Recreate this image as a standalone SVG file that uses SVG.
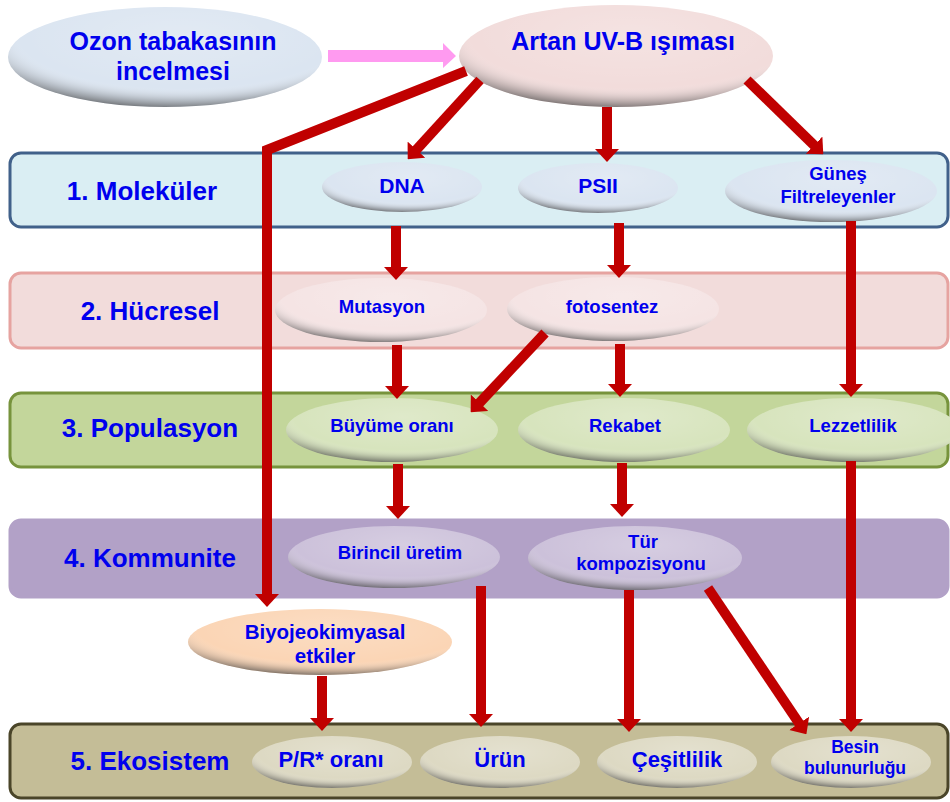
<svg xmlns="http://www.w3.org/2000/svg" width="950" height="802" viewBox="0 0 950 802">
<defs>
<style>
text{font-family:"Liberation Sans",Arial,sans-serif;font-weight:bold;fill:#0000ee;text-anchor:middle}
.lv{font-size:26px}
.band{stroke-width:3}
.conn path{fill:none;stroke:#c00000;stroke-width:10;stroke-linejoin:miter}
.shade{fill:url(#shade)}
</style>
<radialGradient id="shade" cx="55%" cy="30%" r="75%" fx="55%" fy="30%">
<stop offset="0" stop-color="#ffffff" stop-opacity="0.2"/>
<stop offset="0.68" stop-color="#ffffff" stop-opacity="0"/>
<stop offset="0.84" stop-color="#606060" stop-opacity="0.3"/>
<stop offset="1" stop-color="#303030" stop-opacity="0.85"/>
</radialGradient>
<marker id="ah" viewBox="0 0 13 24" refX="1" refY="12" markerWidth="13" markerHeight="24" markerUnits="userSpaceOnUse" orient="auto">
<path d="M0,0 L13,12 L0,24 z" fill="#c00000"/>
</marker>
</defs>
<rect width="950" height="802" fill="#ffffff"/>

<g id="band1"><rect class="band" x="10" y="153" width="938" height="74" rx="11" fill="#daeef3" stroke="#41618a"/><text class="lv" x="142" y="200">1. Moleküler</text></g>
<g id="band2"><rect class="band" x="10" y="273" width="938" height="75" rx="11" fill="#f2dcdb" stroke="#e6a3a0"/><text class="lv" x="150" y="320">2. Hücresel</text></g>
<g id="band3"><rect class="band" x="10" y="393" width="938" height="74" rx="11" fill="#c3d69b" stroke="#77933c"/><text class="lv" x="150" y="437">3. Populasyon</text></g>
<g id="band4"><rect class="band" x="10" y="520" width="938" height="77" rx="11" fill="#b2a1c7" stroke="#b2a1c7"/><text class="lv" x="150" y="567">4. Kommunite</text></g>
<g id="band5"><rect class="band" x="10" y="724" width="938" height="74" rx="11" fill="#c4bd97" stroke="#4a4529"/><text class="lv" x="150" y="770">5. Ekosistem</text></g>

<g id="ozon"><ellipse cx="165" cy="57" rx="157" ry="50" fill="#dbe5f1"/><ellipse class="shade" cx="165" cy="57" rx="157" ry="50"/><text x="173" y="50" font-size="25">Ozon tabakasının</text><text x="173" y="80" font-size="25">incelmesi</text></g>
<g id="uvb"><ellipse cx="616" cy="56" rx="157" ry="51" fill="#f2dcdb"/><ellipse class="shade" cx="616" cy="56" rx="157" ry="51"/><text x="623" y="50" font-size="25">Artan UV-B ışıması</text></g>

<g id="dna"><ellipse cx="402" cy="187" rx="80" ry="25" fill="#dbe5f1"/><ellipse class="shade" cx="402" cy="187" rx="80" ry="25"/><text x="402" y="193" font-size="21">DNA</text></g>
<g id="psii"><ellipse cx="598" cy="188" rx="80" ry="25" fill="#dbe5f1"/><ellipse class="shade" cx="598" cy="188" rx="80" ry="25"/><text x="598" y="193" font-size="21">PSII</text></g>
<g id="gunes"><ellipse cx="831" cy="191" rx="106" ry="31" fill="#dbe5f1"/><ellipse class="shade" cx="831" cy="191" rx="106" ry="31"/><text x="838" y="180" font-size="18.5">Güneş</text><text x="838" y="203" font-size="18.5">Filtreleyenler</text></g>

<g id="mutasyon"><ellipse cx="381" cy="310" rx="106" ry="32" fill="#f5e4e4"/><ellipse class="shade" cx="381" cy="310" rx="106" ry="32"/><text x="382" y="313" font-size="18.5">Mutasyon</text></g>
<g id="fotosentez"><ellipse cx="613" cy="309" rx="106" ry="32" fill="#f5e4e4"/><ellipse class="shade" cx="613" cy="309" rx="106" ry="32"/><text x="612" y="313" font-size="18.5">fotosentez</text></g>

<g id="buyume"><ellipse cx="392" cy="430" rx="106" ry="32" fill="#d7e4bd"/><ellipse class="shade" cx="392" cy="430" rx="106" ry="32"/><text x="392" y="432" font-size="18.5">Büyüme oranı</text></g>
<g id="rekabet"><ellipse cx="624" cy="430" rx="106" ry="32" fill="#d7e4bd"/><ellipse class="shade" cx="624" cy="430" rx="106" ry="32"/><text x="625" y="432" font-size="18.5">Rekabet</text></g>
<g id="lezzetlilik"><ellipse cx="853" cy="430" rx="106" ry="32" fill="#d7e4bd"/><ellipse class="shade" cx="853" cy="430" rx="106" ry="32"/><text x="853" y="432" font-size="18.5">Lezzetlilik</text></g>

<g id="birincil"><ellipse cx="394" cy="557" rx="106" ry="31" fill="#ccc1da"/><ellipse class="shade" cx="394" cy="557" rx="106" ry="31"/><text x="400" y="559" font-size="18.5">Birincil üretim</text></g>
<g id="tur"><ellipse cx="635" cy="558" rx="107" ry="32" fill="#ccc1da"/><ellipse class="shade" cx="635" cy="558" rx="107" ry="32"/><text x="643" y="548" font-size="18.5">Tür</text><text x="641" y="570" font-size="18.5">kompozisyonu</text></g>

<g id="biyo"><ellipse cx="320" cy="642" rx="132" ry="33" fill="#fbd5b5"/><ellipse class="shade" cx="320" cy="642" rx="132" ry="33"/><text x="325" y="639" font-size="20.5">Biyojeokimyasal</text><text x="325" y="663" font-size="20.5">etkiler</text></g>

<g id="pr"><ellipse cx="332" cy="762" rx="80" ry="26" fill="#ddd9c3"/><ellipse class="shade" cx="332" cy="762" rx="80" ry="26"/><text x="331" y="767" font-size="22">P/R* oranı</text></g>
<g id="urun"><ellipse cx="500" cy="762" rx="80" ry="26" fill="#ddd9c3"/><ellipse class="shade" cx="500" cy="762" rx="80" ry="26"/><text x="500" y="767" font-size="22">Ürün</text></g>
<g id="cesitlilik"><ellipse cx="677" cy="762" rx="80" ry="26" fill="#ddd9c3"/><ellipse class="shade" cx="677" cy="762" rx="80" ry="26"/><text x="677" y="767" font-size="22">Çeşitlilik</text></g>
<g id="besin"><ellipse cx="851" cy="762" rx="80" ry="26" fill="#ddd9c3"/><ellipse class="shade" cx="851" cy="762" rx="80" ry="26"/><text x="855" y="753" font-size="17.5">Besin</text><text x="855" y="774" font-size="17.5">bulunurluğu</text></g>

<g id="connectors" class="conn">
<polygon points="328,50 443,50 443,43 456,56 443,68 443,62 328,62" fill="#ff9af0"/>
<path d="M466,71 L267,150 L267,595" marker-end="url(#ah)"/>
<path d="M480,80 L415.8,150.4" marker-end="url(#ah)"/>
<path d="M607,107 L607,150" marker-end="url(#ah)"/>
<path d="M747,80 L814.7,145.9" marker-end="url(#ah)"/>
<path d="M396,226 L396,268" marker-end="url(#ah)"/>
<path d="M619,223 L619,266" marker-end="url(#ah)"/>
<path d="M851,221 L851,385" marker-end="url(#ah)"/>
<path d="M397,345 L397,387" marker-end="url(#ah)"/>
<path d="M545,333 L478.9,403.5" marker-end="url(#ah)"/>
<path d="M620,344 L620,385" marker-end="url(#ah)"/>
<path d="M398,464 L398,507" marker-end="url(#ah)"/>
<path d="M622,463 L622,505" marker-end="url(#ah)"/>
<path d="M851,461 L851,720" marker-end="url(#ah)"/>
<path d="M481,586 L481,715" marker-end="url(#ah)"/>
<path d="M629,590 L629,720" marker-end="url(#ah)"/>
<path d="M708,588 L799.7,724.2" marker-end="url(#ah)"/>
<path d="M322,676 L322,719" marker-end="url(#ah)"/>
</g>
</svg>
